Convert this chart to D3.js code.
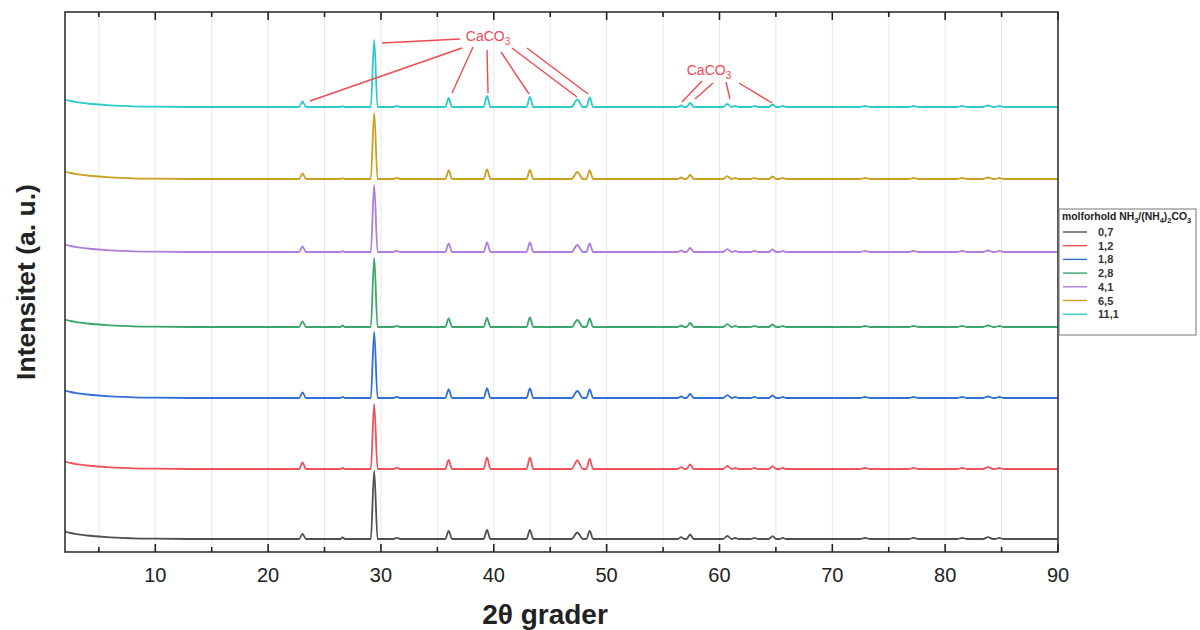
<!DOCTYPE html>
<html><head><meta charset="utf-8">
<script src="https://cdn.jsdelivr.net/npm/d3@7"></script>
<style>
body{margin:0;background:#fff}
svg{display:block}
text{font-family:"Liberation Sans", Arial, Helvetica, sans-serif}
</style>
</head><body>
<svg id="c" width="1200" height="630"></svg>
<script>
// ---------- DATA ----------
const seriesNames   = ["0,7", "1,2", "1,8", "2,8", "4,1", "6,5", "11,1"];
const seriesColors  = ["#505050", "#f0525a", "#2f6fd6", "#3aa66a", "#b07ddc", "#c9a020", "#2ccaca"];
const seriesOffsets = [130, 830, 1540, 2250, 3000, 3730, 4450];

// shared calcite reflections (2θ) and their base half-widths (°)
const peakPositions = [23.05, 26.6, 29.4, 31.4, 36.0, 39.4, 43.2, 47.4, 48.5, 56.6, 57.4, 60.7, 61.4, 63.1, 64.7, 65.6, 72.9, 77.2, 81.5, 83.8, 84.8];
const peakWidths    = [0.30, 0.20, 0.30, 0.30, 0.30, 0.30, 0.30, 0.50, 0.30, 0.30, 0.32, 0.38, 0.30, 0.35, 0.33, 0.30, 0.45, 0.45, 0.45, 0.45, 0.40];

// peak heights per series (a. u.)
const heights07  = [50, 15, 680, 12, 80,  90,  90, 65, 80, 18, 45, 30, 10, 10, 28, 10, 10, 10, 10, 18, 10];
const heights12  = [65, 10, 650, 12, 90, 115, 115, 85, 100, 18, 45, 30, 10, 10, 28, 10, 10, 10, 10, 18, 10];
const heights18  = [55, 12, 660, 12, 85,  95,  95, 70, 85, 15, 40, 28, 10, 10, 25, 10, 10, 10, 10, 15, 10];
const heights28  = [55, 15, 690, 12, 85,  90,  95, 70, 85, 15, 40, 28, 10, 10, 25, 10, 10, 10, 10, 15, 10];
const heights41  = [55,  8, 670, 12, 85,  95,  95, 70, 85, 15, 40, 28, 10, 10, 25, 10, 10, 10, 10, 15, 10];
const heights65  = [55,  8, 660, 12, 85,  95,  90, 70, 85, 15, 40, 28, 10, 10, 25, 10, 10, 10, 10, 15, 10];
const heights111 = [55,  8, 670, 12, 90, 110, 100, 75, 95, 15, 40, 30, 10, 10, 25, 10, 10, 10, 10, 15, 10];
const seriesHeights = [heights07, heights12, heights18, heights28, heights41, heights65, heights111];

// low-angle background rise (a. u. above baseline)
const backgroundCurve = [[2, 75], [2.5, 60], [3, 49], [4, 35], [5, 25], [6, 17], [7, 11], [8, 7], [10, 3], [13, 0], [90, 0]];

const xTicksMajor = [10, 20, 30, 40, 50, 60, 70, 80, 90];
const xTicksMinor = [5, 15, 25, 35, 45, 55, 65, 75, 85];
const gridTicks   = [5, 10, 15, 20, 25, 30, 35, 40, 45, 50, 55, 60, 65, 70, 75, 80, 85];

// annotations (data units: 2θ, intensity)
const annotLabels = [{x: 39.49, y: 5110}, {x: 59.07, y: 4770}];
const annotLines = [
  [30.09, 5090, 37.00, 5130],
  [37.18, 5040, 23.71, 4510],
  [38.16, 5050, 36.30, 4590],
  [39.40, 5020, 39.49, 4590],
  [40.64, 5000, 43.12, 4580],
  [41.61, 5040, 47.37, 4550],
  [42.94, 5040, 48.35, 4580],
  [58.45, 4710, 56.68, 4500],
  [59.43, 4690, 57.83, 4530],
  [60.58, 4700, 60.93, 4530],
  [61.73, 4690, 64.66, 4490]
];

// ---------- CHART ----------
const svg = d3.select("#c");
const L = 65, R = 1058, T = 12, B = 552;
const x = d3.scaleLinear().domain([2, 90]).range([L, R]);
const y = d3.scaleLinear().domain([0, 5400]).range([B, T]);

// grid
svg.append("g").selectAll("line").data(gridTicks).join("line")
  .attr("x1", d => x(d)).attr("x2", d => x(d)).attr("y1", T).attr("y2", B)
  .attr("stroke", "#e8e8e8").attr("stroke-width", 1);

// build series points
function buildPoints(heights, offset) {
  const pts = backgroundCurve.filter(p => p[0] < 20).map(p => [p[0], offset + p[1]]);
  peakPositions.forEach((p, i) => {
    const w = peakWidths[i];
    pts.push([p - w, offset], [p, offset + heights[i]], [p + w, offset]);
  });
  pts.push([90, offset]);
  pts.sort((a, b) => a[0] - b[0]);
  return pts;
}
const line = d3.line().x(d => x(d[0])).y(d => y(d[1])).curve(d3.curveMonotoneX);

svg.append("clipPath").attr("id", "clip").append("rect")
  .attr("x", L).attr("y", T).attr("width", R - L).attr("height", B - T);

const gSeries = svg.append("g").attr("clip-path", "url(#clip)");
seriesNames.forEach((n, i) => {
  gSeries.append("path")
    .datum(buildPoints(seriesHeights[i], seriesOffsets[i]))
    .attr("d", line).attr("fill", "none")
    .attr("stroke", seriesColors[i]).attr("stroke-width", 1.8)
    .attr("stroke-linejoin", "round");
});

// annotations
const red = "#ee4a50";
svg.append("g").selectAll("line").data(annotLines).join("line")
  .attr("x1", d => x(d[0])).attr("y1", d => y(d[1]))
  .attr("x2", d => x(d[2])).attr("y2", d => y(d[3]))
  .attr("stroke", red).attr("stroke-width", 1.4);

function richText(sel, parts, subSize, shift) {
  parts.forEach(([s, sub], k) => {
    const t = sel.append("tspan").text(s);
    if (sub) t.attr("dy", shift).attr("font-size", subSize);
    else if (k > 0 && parts[k - 1][1]) t.attr("dy", -shift);
  });
}
annotLabels.forEach(a => {
  const t = svg.append("text").attr("x", x(a.x)).attr("y", y(a.y))
    .attr("text-anchor", "middle").attr("fill", red).attr("font-size", 14);
  richText(t, [["CaCO", false], ["3", true]], 10, 4);
});

// frame
svg.append("rect").attr("x", L).attr("y", T).attr("width", R - L).attr("height", B - T)
  .attr("fill", "none").attr("stroke", "#333").attr("stroke-width", 1.6);

// ticks (inside, bottom and top)
const tickG = svg.append("g").attr("stroke", "#222").attr("stroke-width", 1.6);
xTicksMajor.forEach(d => {
  tickG.append("line").attr("x1", x(d)).attr("x2", x(d)).attr("y1", B).attr("y2", B - 8);
  tickG.append("line").attr("x1", x(d)).attr("x2", x(d)).attr("y1", T).attr("y2", T + 8);
});
xTicksMinor.forEach(d => {
  tickG.append("line").attr("x1", x(d)).attr("x2", x(d)).attr("y1", B).attr("y2", B - 5);
  tickG.append("line").attr("x1", x(d)).attr("x2", x(d)).attr("y1", T).attr("y2", T + 5);
});
svg.append("g").selectAll("text").data(xTicksMajor).join("text")
  .attr("x", d => x(d)).attr("y", 582).attr("text-anchor", "middle")
  .attr("font-size", 20).attr("fill", "#222").text(d => d);

// axis titles
svg.append("text").attr("x", 545).attr("y", 624).attr("text-anchor", "middle")
  .attr("font-size", 28).attr("font-weight", "bold").attr("fill", "#222").text("2θ grader");
svg.append("text").attr("transform", "translate(35,282) rotate(-90)").attr("text-anchor", "middle")
  .attr("font-size", 26.5).attr("font-weight", "bold").attr("fill", "#222").text("Intensitet (a. u.)");

// legend
const lg = svg.append("g");
lg.append("rect").attr("x", 1059).attr("y", 209).attr("width", 137).attr("height", 126)
  .attr("fill", "#fff").attr("stroke", "#777").attr("stroke-width", 1);
const lt = lg.append("text").attr("x", 1062).attr("y", 220).attr("font-size", 10.4)
  .attr("font-weight", "bold").attr("fill", "#222");
richText(lt, [["molforhold NH", false], ["3", true], ["/(NH", false], ["4", true], [")", false], ["2", true], ["CO", false], ["3", true]], 7.5, 3);
seriesNames.forEach((n, i) => {
  const yy = 232 + i * 13.7;
  lg.append("line").attr("x1", 1063).attr("x2", 1087).attr("y1", yy).attr("y2", yy)
    .attr("stroke", seriesColors[i]).attr("stroke-width", 1.4);
  lg.append("text").attr("x", 1098).attr("y", yy + 4).attr("font-size", 11)
    .attr("font-weight", "bold").attr("fill", "#333").text(n);
});
</script>
</body></html>
